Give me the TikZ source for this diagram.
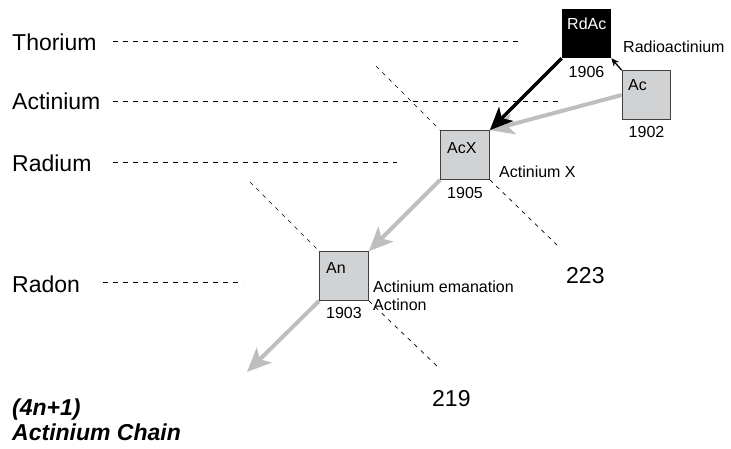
\documentclass[tikz,border=0pt]{standalone}
\usepackage{fontspec}
\setmainfont{Liberation Sans}
\usetikzlibrary{arrows.meta}
\definecolor{boxfill}{HTML}{D1D2D4}
\definecolor{boxline}{HTML}{404040}
\definecolor{arrgray}{HTML}{BDBEC0}
\begin{document}
\begin{tikzpicture}[x=1pt,y=-1pt,
  isobox/.style={draw=boxline,line width=1.1pt,fill=boxfill,minimum size=48.5pt,inner sep=0pt},
  big/.style={inner sep=0pt,anchor=base west,font=\fontsize{23}{27}\selectfont},
  small/.style={inner sep=0pt,anchor=base west,font=\fontsize{16}{19}\selectfont},
  year/.style={inner sep=0pt,anchor=base,font=\fontsize{16}{19}\selectfont},
  chain/.style={inner sep=0pt,anchor=base west,font=\fontsize{23}{27}\selectfont\bfseries\itshape},
  hguide/.style={line width=0.8pt,dash pattern=on 5pt off 5pt},
  dguide/.style={line width=0.7pt,dash pattern=on 4pt off 5pt},
  grayarr/.style={draw=arrgray,line width=4pt,-{Stealth[length=24pt,width=21pt,inset=6pt]}},
  blackarr/.style={draw=black,line width=3.2pt,-{Stealth[length=23pt,width=20pt,inset=6pt]}},
  thinarr/.style={draw=black,line width=1.3pt,-{Stealth[length=8pt,width=7pt]}}]
\useasboundingbox (0,0) rectangle (731,448);

% element labels and guide lines
\node[big] (th) at (12,50) {Thorium};
\node[big] (acl) at (12,109) {Actinium};
\node[big] (ra) at (12,171) {Radium};
\node[big] (rn) at (12,292) {Radon};
\coordinate (th1) at (113,41);  \coordinate (th2) at (518,41);
\coordinate (ac1) at (113,101); \coordinate (ac2) at (558,101);
\coordinate (ra1) at (113,162); \coordinate (ra2) at (397,162);
\coordinate (rn1) at (103,282); \coordinate (rn2) at (243,282);
\draw[hguide] (th1) -- (th2);
\draw[hguide] (ac1) -- (ac2);
\draw[hguide] (ra1) -- (ra2);
\draw[hguide] (rn1) -- (rn2);

% boxes
\node[isobox,fill=black,draw=black] (rdac) at (586.5,33.5) {};
\node[isobox] (ac) at (646.5,95) {};
\node[isobox] (acx) at (465,155) {};
\node[isobox] (an) at (344,276) {};

% diagonal guide lines
\coordinate (d1a) at (376,66);
\coordinate (d1b) at (557,245);
\coordinate (d2a) at (250,182);
\coordinate (d2b) at (437,366);
\draw[dguide] (d1a) -- (acx.north west);
\draw[dguide] (acx.south east) -- (d1b);
\draw[dguide] (d2a) -- (an.north west);
\draw[dguide] (an.south east) -- (d2b);

% box texts
\node[small,text=white] (trdac) at (567,29) {RdAc};
\node[small] (tac) at (628,90) {Ac};
\node[small] (tacx) at (447,153) {AcX};
\node[small] (tan) at (326,273) {An};
\node[year] (y1906) at (586.5,77) {1906};
\node[year] (y1902) at (646.5,137) {1902};
\node[year] (y1905) at (465,198) {1905};
\node[year] (y1903) at (344,318) {1903};
\node[small] (nrdac) at (623,52) {Radioactinium};
\node[small] (nacx) at (499,177) {Actinium X};
\node[small] (nan1) at (373,292) {Actinium emanation};
\node[small] (nan2) at (373,310) {Actinon};

% mass numbers
\node[big] (m223) at (566,283) {223};
\node[big] (m219) at (432,406) {219};

% chain title
\node[chain] (c1) at (12,415) {(4n+1)};
\node[chain] (c2) at (12,440) {Actinium Chain};

% arrows
\coordinate (anend) at (247,372);
\draw[grayarr] (ac.west) -- (acx.north east);
\draw[blackarr] (rdac.south west) -- (acx.north east);
\draw[thinarr] (ac.north west) -- (rdac.south east);
\draw[grayarr] (acx.south west) -- (an.north east);
\draw[grayarr] (an.south west) -- (anend);
\end{tikzpicture}
\end{document}
